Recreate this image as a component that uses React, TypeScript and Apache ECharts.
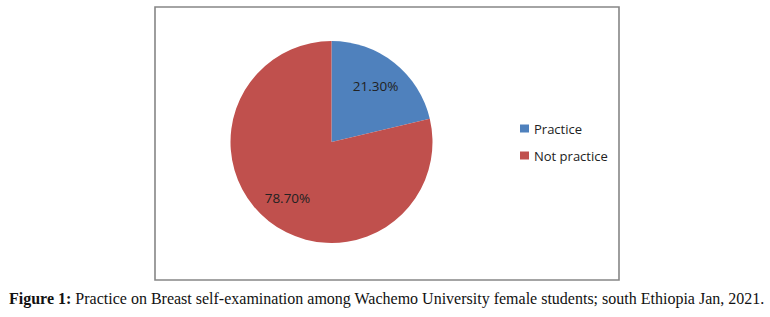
import React, { useEffect, useRef } from "react";
import * as echarts from "echarts";

const categories = ["Practice", "Not practice"];
const values = [21.3, 78.7];
const colors = ["#4F81BD", "#C0504D"];
const captionBold = "Figure 1:";
const captionText = " Practice on Breast self-examination among Wachemo University female students; south Ethiopia Jan, 2021.";

export default function App() {
  const ref = useRef<HTMLDivElement>(null);
  useEffect(() => {
    if (!ref.current) return;
    const chart = echarts.init(ref.current, null, { renderer: "svg" });
    const data = categories.map((name, i) => ({
      name,
      value: values[i],
      itemStyle: { color: colors[i] },
    }));
    chart.setOption({
      animation: false,
      backgroundColor: "#ffffff",
      legend: {
        orient: "vertical",
        left: 515,
        top: 117,
        itemWidth: 9,
        itemHeight: 8,
        itemGap: 14,
        icon: "rect",
        data: categories,
        textStyle: { fontFamily: "Open Sans", fontSize: 13, color: "#222" },
      },
      graphic: [
        {
          type: "rect",
          shape: { x: 155, y: 7, width: 464, height: 273 },
          style: { fill: "none", stroke: "#868686", lineWidth: 1.6 },
          silent: true,
        },
        {
          type: "text",
          x: 9,
          y: 298,
          style: {
            text: "{b|" + captionBold + "}{n|" + captionText + "}",
            verticalAlign: "middle",
            rich: {
              b: { fontFamily: "Liberation Serif", fontSize: 16, fontWeight: "bold", fill: "#111" },
              n: { fontFamily: "Liberation Serif", fontSize: 16, fill: "#111" },
            },
          },
        },
      ],
      series: [
        {
          type: "pie",
          center: [331.5, 142],
          radius: [0, 101],
          startAngle: 90,
          clockwise: true,
          label: { show: false },
          labelLine: { show: false },
          emphasis: { disabled: true },
          data,
        },
        {
          type: "pie",
          center: [331.5, 142],
          radius: [35, 101],
          startAngle: 90,
          clockwise: true,
          silent: true,
          z: 3,
          itemStyle: { color: "transparent" },
          label: {
            show: true,
            position: "inside",
            formatter: (p: any) => p.value.toFixed(2) + "%",
            fontFamily: "Open Sans",
            fontSize: 13.5,
            color: "#222",
          },
          labelLine: { show: false },
          emphasis: { disabled: true },
          data: categories.map((name, i) => ({ name, value: values[i], itemStyle: { color: "transparent" } })),
        },
      ],
    });
    return () => chart.dispose();
  }, []);
  return (
    <div
      ref={ref}
      style={{ position: "fixed", left: 0, top: 0, width: 770, height: 317 }}
    />
  );
}
